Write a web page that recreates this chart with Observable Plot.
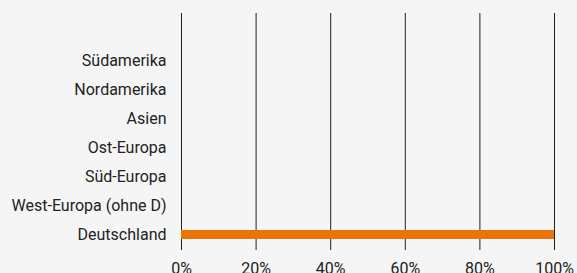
<!DOCTYPE html>
<html>
<head>
<meta charset="utf-8">
<script src="https://cdn.jsdelivr.net/npm/d3@7"></script>
<script src="https://cdn.jsdelivr.net/npm/@observablehq/plot@0.6"></script>
<style>
  html, body { margin: 0; padding: 0; background: #f5f5f5; }
  #chart svg { display: block; background: #f5f5f5; }
</style>
</head>
<body>
<div id="chart"></div>
<script>
const categories = ["Südamerika", "Nordamerika", "Asien", "Ost-Europa", "Süd-Europa", "West-Europa (ohne D)", "Deutschland"];
const values = [0, 0, 0, 0, 0, 0, 100];
const xTicks = [0, 20, 40, 60, 80, 100];

const data = categories.map((c, i) => ({region: c, value: values[i]}));

const chart = Plot.plot({
  width: 577,
  height: 273,
  marginTop: 13,
  marginBottom: 23,
  marginLeft: 181,
  marginRight: 23,
  style: {background: "#f5f5f5", fontFamily: "Roboto, sans-serif", fontSize: "16px", color: "#222"},
  x: {domain: [0, 100], ticks: xTicks, tickFormat: d => d + "%", label: null},
  y: {domain: categories, paddingInner: 0.673, paddingOuter: 0.888, align: 0.795, label: null},
  marks: [
    Plot.ruleX(xTicks, {stroke: "#222", strokeWidth: 1, strokeOpacity: 1}),
    Plot.barX(data.filter(d => d.value > 0), {x: "value", y: "region", fill: "#ea7505"}),
    Plot.axisX({ticks: xTicks, tickFormat: d => d + "%", tickSize: 0, tickPadding: 12, label: null, fontSize: 16}),
    Plot.axisY({tickSize: 0, tickPadding: 15, label: null, fontSize: 16})
  ]
});
document.getElementById("chart").appendChild(chart);
</script>
</body>
</html>
